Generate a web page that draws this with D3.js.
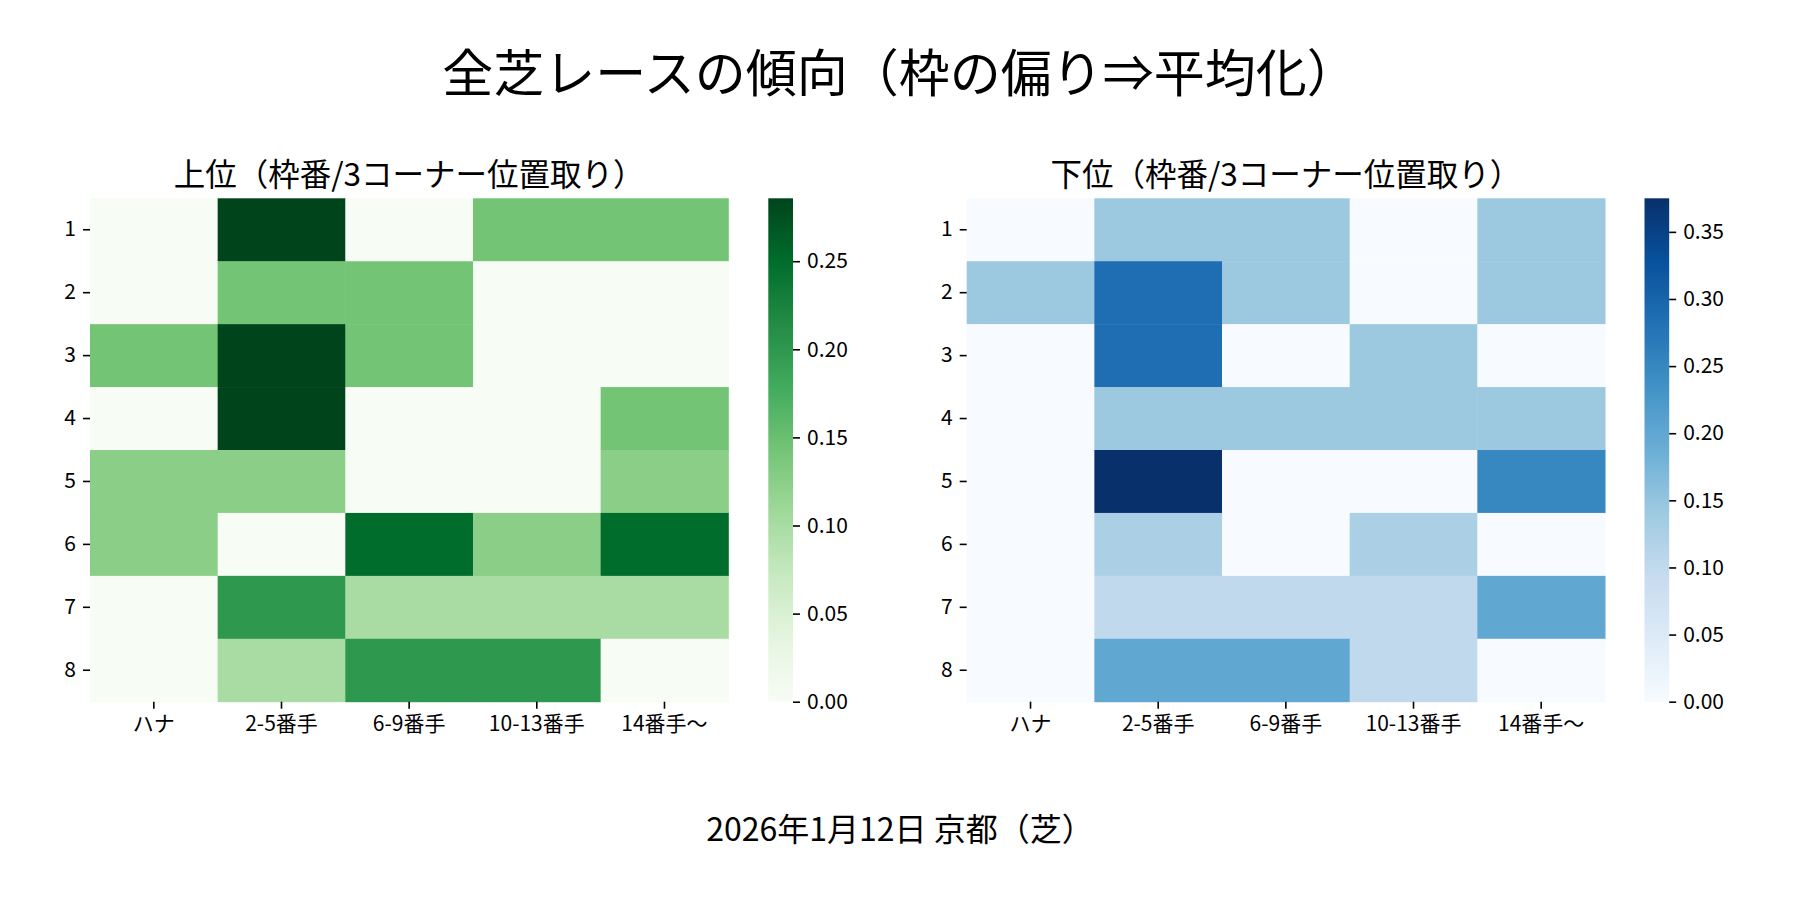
<!DOCTYPE html>
<html>
<head>
<meta charset="utf-8">
<script src="https://cdn.jsdelivr.net/npm/d3@7"></script>
<style>
  body { margin: 0; background: #fff; }
  text { font-family: "Noto Sans CJK JP", "Noto Sans", sans-serif; }
</style>
</head>
<body>
<svg id="chart" width="1800" height="900"></svg>
<script>
// rows = 枠番, columns = 3コーナー位置取り
var rowLabels = ["1", "2", "3", "4", "5", "6", "7", "8"];
var colLabels = ["ハナ", "2-5番手", "6-9番手", "10-13番手", "14番手〜"];

// 上位 (Greens)
var upperValues = [
  [0,      0.2857, 0,      0.1429, 0.1429],
  [0,      0.1429, 0.1429, 0,      0     ],
  [0.1429, 0.2857, 0.1429, 0,      0     ],
  [0,      0.2857, 0,      0,      0.1429],
  [0.125,  0.125,  0,      0,      0.125 ],
  [0.125,  0,      0.25,   0.125,  0.25  ],
  [0,      0.2,    0.1,    0.1,    0.1   ],
  [0,      0.1,    0.2,    0.2,    0     ]
];

// 下位 (Blues)
var lowerValues = [
  [0,      0.1429, 0.1429, 0,      0.1429],
  [0.1429, 0.2857, 0.1429, 0,      0.1429],
  [0,      0.2857, 0,      0.1429, 0     ],
  [0,      0.1429, 0.1429, 0.1429, 0.1429],
  [0,      0.375,  0,      0,      0.25  ],
  [0,      0.125,  0,      0.125,  0     ],
  [0,      0.1,    0.1,    0.1,    0.2   ],
  [0,      0.2,    0.2,    0.1,    0     ]
];

var upperTicks = [0, 0.05, 0.10, 0.15, 0.20, 0.25];
var lowerTicks = [0, 0.05, 0.10, 0.15, 0.20, 0.25, 0.30, 0.35];

// matplotlib Greens / Blues anchor colours
var greens = ["#f7fcf5", "#e5f5e0", "#c7e9c0", "#a1d99b", "#74c476", "#41ab5d", "#238b45", "#006d2c", "#00441b"];
var blues  = ["#f7fbff", "#deebf7", "#c6dbef", "#9ecae1", "#6baed6", "#4292c6", "#2171b5", "#08519c", "#08306b"];

var svg = d3.select("#chart");

function styleaxis(g){
    g.attr("font-size", 21);
    g.select(".domain").remove();
    g.selectAll(".tick line").attr("stroke", "#000").attr("stroke-width", 1.6);
    g.selectAll(".tick text").attr("fill", "#000");
}

function drawheatmap(values, left, cbLeft, title, palette, ticks, gradid){
    var top = 198.3, bottom = 701.7, right = left + 638.3;
    var cbWidth = 24.7;

    var x = d3.scaleBand().domain(colLabels).range([left, right]);
    var y = d3.scaleBand().domain(rowLabels).range([top, bottom]);

    var vmax = d3.max(values, function(r){ return d3.max(r); });
    var color = d3.scaleLinear()
        .domain(palette.map(function(c, i){ return vmax * i / (palette.length - 1); }))
        .range(palette)
        .clamp(true);

    var cells = [];
    values.forEach(function(r, i){
        r.forEach(function(v, j){
            cells.push({row: rowLabels[i], col: colLabels[j], value: v});
        });
    });

    svg.append("g").selectAll("rect")
        .data(cells)
        .enter().append("rect")
        .attr("x", function(d){ return x(d.col); })
        .attr("y", function(d){ return y(d.row); })
        .attr("width", x.bandwidth() + 0.5)
        .attr("height", y.bandwidth() + 0.5)
        .attr("fill", function(d){ return color(d.value); });

    // x axis
    var gx = svg.append("g")
        .attr("transform", "translate(0," + bottom + ")")
        .call(d3.axisBottom(x).tickSize(7).tickPadding(7));
    styleaxis(gx);

    // y axis
    var gy = svg.append("g")
        .attr("transform", "translate(" + left + ",0)")
        .call(d3.axisLeft(y).tickSize(7).tickPadding(7));
    styleaxis(gy);

    // subplot title
    svg.append("text")
        .attr("x", (left + right) / 2)
        .attr("y", 186)
        .attr("text-anchor", "middle")
        .attr("font-size", 31.5)
        .attr("fill", "#000")
        .text(title);

    // colorbar
    var grad = svg.append("defs").append("linearGradient")
        .attr("id", gradid)
        .attr("x1", 0).attr("y1", 1).attr("x2", 0).attr("y2", 0);
    grad.selectAll("stop")
        .data(palette)
        .enter().append("stop")
        .attr("offset", function(d, i){ return i / (palette.length - 1); })
        .attr("stop-color", function(d){ return d; });

    svg.append("rect")
        .attr("x", cbLeft)
        .attr("y", top)
        .attr("width", cbWidth)
        .attr("height", bottom - top)
        .attr("fill", "url(#" + gradid + ")");

    var cb = d3.scaleLinear().domain([0, vmax]).range([bottom, top]);
    var gc = svg.append("g")
        .attr("transform", "translate(" + (cbLeft + cbWidth) + ",0)")
        .call(d3.axisRight(cb).tickValues(ticks).tickFormat(d3.format(".2f")).tickSize(7).tickPadding(7));
    styleaxis(gc);
}

drawheatmap(upperValues, 90, 768.3, "上位（枠番/3コーナー位置取り）", greens, upperTicks, "grad-greens");
drawheatmap(lowerValues, 966.7, 1644.5, "下位（枠番/3コーナー位置取り）", blues, lowerTicks, "grad-blues");

// suptitle
svg.append("text")
    .attr("x", 900)
    .attr("y", 92)
    .attr("text-anchor", "middle")
    .attr("font-size", 51)
    .attr("fill", "#000")
    .text("全芝レースの傾向（枠の偏り⇒平均化）");

// footer
svg.append("text")
    .attr("x", 900)
    .attr("y", 841)
    .attr("text-anchor", "middle")
    .attr("font-size", 32)
    .attr("fill", "#000")
    .text("2026年1月12日 京都（芝）");
</script>
</body>
</html>
